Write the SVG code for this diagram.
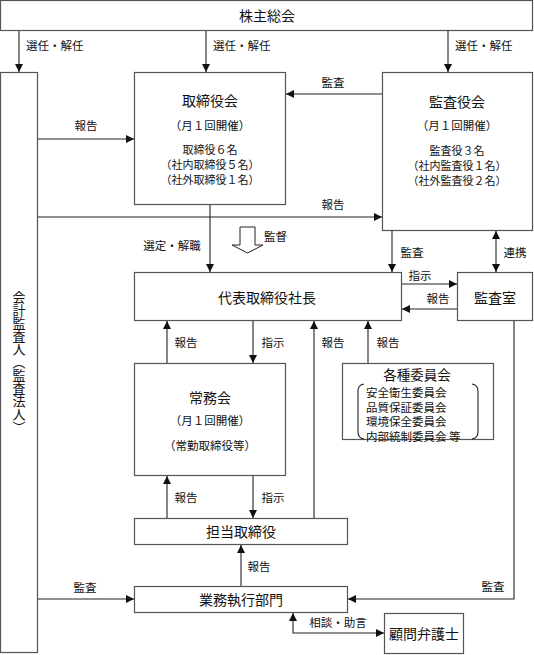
<svg xmlns="http://www.w3.org/2000/svg" width="534" height="655" viewBox="0 0 534 655">
<defs>
<style>
text{font-family:"Noto Sans CJK JP","Noto Sans CJK SC",sans-serif;fill:#111;dominant-baseline:central}
.box{fill:#fff;stroke:#555;stroke-width:1.2}
.t{font-size:14px;text-anchor:middle}
.s{font-size:11.5px;text-anchor:middle}
.m{font-size:11px;text-anchor:middle}
.l{font-size:11.5px;text-anchor:middle}
.ls{font-size:11.5px;text-anchor:start}
.c{fill:none;stroke:#222;stroke-width:1.1}
.vt{font-size:13px;text-anchor:middle;writing-mode:vertical-rl;dominant-baseline:auto}
</style>
<marker id="ah" markerUnits="userSpaceOnUse" markerWidth="9" markerHeight="8" refX="8" refY="4" orient="auto-start-reverse">
<path d="M0,0 L8,4 L0,8 z" fill="#111"/>
</marker>
</defs>

<g id="shareholders">
<rect class="box" x="0.5" y="0.5" width="532" height="30"/>
<text class="t" x="267" y="15">株主総会</text>
</g>

<g id="accounting-auditor">
<rect class="box" x="0.5" y="72.5" width="37" height="580"/>
<text class="vt" x="19" y="362">会計監査人（監査法人）</text>
</g>

<g id="board">
<rect class="box" x="134.5" y="72.5" width="151" height="132"/>
<text class="t" x="210" y="100">取締役会</text>
<text class="s" x="210" y="125">（月１回開催）</text>
<text class="m"><tspan x="210" y="149">取締役６名</tspan><tspan x="210" y="164">（社内取締役５名）</tspan><tspan x="210" y="179">（社外取締役１名）</tspan></text>
</g>

<g id="audit-board">
<rect class="box" x="382.5" y="72.5" width="150" height="158"/>
<text class="t" x="457" y="101">監査役会</text>
<text class="s" x="457" y="125">（月１回開催）</text>
<text class="m"><tspan x="457" y="150">監査役３名</tspan><tspan x="457" y="165">（社内監査役１名）</tspan><tspan x="457" y="180">（社外監査役２名）</tspan></text>
</g>

<g id="president">
<rect class="box" x="134.5" y="272.5" width="267" height="48"/>
<text class="t" x="267" y="297">代表取締役社長</text>
</g>

<g id="audit-office">
<rect class="box" x="457.5" y="272.5" width="75" height="48"/>
<text class="t" x="495" y="297">監査室</text>
</g>

<g id="executive-meeting">
<rect class="box" x="134.5" y="363.5" width="151" height="112"/>
<text class="t" x="210" y="397">常務会</text>
<text class="s" x="210" y="420">（月１回開催）</text>
<text class="s" x="210" y="445">（常勤取締役等）</text>
</g>

<g id="committees">
<rect class="box" x="342.5" y="363.5" width="151" height="76"/>
<text class="t" x="417" y="374" style="font-size:13.5px">各種委員会</text>
<text class="s" style="text-anchor:start"><tspan x="366" y="392">安全衛生委員会</tspan><tspan x="366" y="406.5">品質保証委員会</tspan><tspan x="366" y="421">環境保全委員会</tspan><tspan x="366" y="435.5">内部統制委員会 等</tspan></text>
<path class="c" d="M364,384 Q358,385 358,391 L358,432 Q358,438 364,439"/>
<path class="c" d="M472,384 Q478,385 478,391 L478,432 Q478,438 472,439"/>
</g>

<g id="director-in-charge">
<rect class="box" x="134.5" y="518.5" width="213" height="26"/>
<text class="t" x="241" y="531">担当取締役</text>
</g>

<g id="business-division">
<rect class="box" x="134.5" y="586.5" width="213" height="26"/>
<text class="t" x="241" y="599">業務執行部門</text>
</g>

<g id="lawyer">
<rect class="box" x="384.5" y="613.5" width="79" height="40"/>
<text class="t" x="424" y="633">顧問弁護士</text>
</g>

<g id="connectors">
<line class="c" x1="19" y1="31" x2="19" y2="72" marker-end="url(#ah)"/>
<text class="ls" x="26" y="45">選任・解任</text>
<line class="c" x1="206" y1="31" x2="206" y2="72" marker-end="url(#ah)"/>
<text class="ls" x="213" y="45">選任・解任</text>
<line class="c" x1="448" y1="31" x2="448" y2="72" marker-end="url(#ah)"/>
<text class="ls" x="455" y="45">選任・解任</text>

<line class="c" x1="382" y1="94" x2="286" y2="94" marker-end="url(#ah)"/>
<text class="l" x="333" y="82">監査</text>

<line class="c" x1="38" y1="139" x2="134" y2="139" marker-end="url(#ah)"/>
<text class="l" x="86" y="125">報告</text>

<line class="c" x1="38" y1="217" x2="382" y2="217" marker-end="url(#ah)"/>
<text class="l" x="333" y="204">報告</text>

<line class="c" x1="210" y1="205" x2="210" y2="272" marker-end="url(#ah)"/>
<text class="l" x="172" y="245">選定・解職</text>

<path d="M240,227 L255,227 L255,245 L263,245 L247.5,253 L232,245 L240,245 z" fill="#fff" stroke="#222" stroke-width="1"/>
<text class="ls" x="264" y="236">監督</text>

<line class="c" x1="392" y1="231" x2="392" y2="272" marker-end="url(#ah)"/>
<text class="l" x="412" y="252">監査</text>

<line class="c" x1="496" y1="231" x2="496" y2="272" marker-start="url(#ah)" marker-end="url(#ah)"/>
<text class="l" x="515" y="252">連携</text>

<line class="c" x1="402" y1="284" x2="457" y2="284" marker-end="url(#ah)"/>
<text class="l" x="420" y="275">指示</text>
<line class="c" x1="457" y1="309" x2="402" y2="309" marker-end="url(#ah)"/>
<text class="l" x="438" y="298">報告</text>

<line class="c" x1="167" y1="363" x2="167" y2="321" marker-end="url(#ah)"/>
<text class="l" x="186" y="342">報告</text>
<line class="c" x1="253" y1="321" x2="253" y2="363" marker-end="url(#ah)"/>
<text class="l" x="273" y="342">指示</text>
<line class="c" x1="314" y1="518" x2="314" y2="321" marker-end="url(#ah)"/>
<text class="l" x="333" y="342">報告</text>
<line class="c" x1="368" y1="363" x2="368" y2="321" marker-end="url(#ah)"/>
<text class="l" x="388" y="342">報告</text>

<path class="c" d="M514,321 L514,599 L348,599" marker-end="url(#ah)"/>
<text class="l" x="493" y="586">監査</text>

<line class="c" x1="167" y1="518" x2="167" y2="476" marker-end="url(#ah)"/>
<text class="l" x="186" y="497">報告</text>
<line class="c" x1="253" y1="476" x2="253" y2="518" marker-end="url(#ah)"/>
<text class="l" x="273" y="497">指示</text>

<line class="c" x1="241" y1="586" x2="241" y2="545" marker-end="url(#ah)"/>
<text class="l" x="259" y="566">報告</text>

<line class="c" x1="38" y1="599" x2="134" y2="599" marker-end="url(#ah)"/>
<text class="l" x="85" y="587">監査</text>

<path class="c" d="M293,613 L293,633 L384,633" marker-start="url(#ah)" marker-end="url(#ah)"/>
<text class="l" x="338" y="622">相談・助言</text>
</g>
</svg>
